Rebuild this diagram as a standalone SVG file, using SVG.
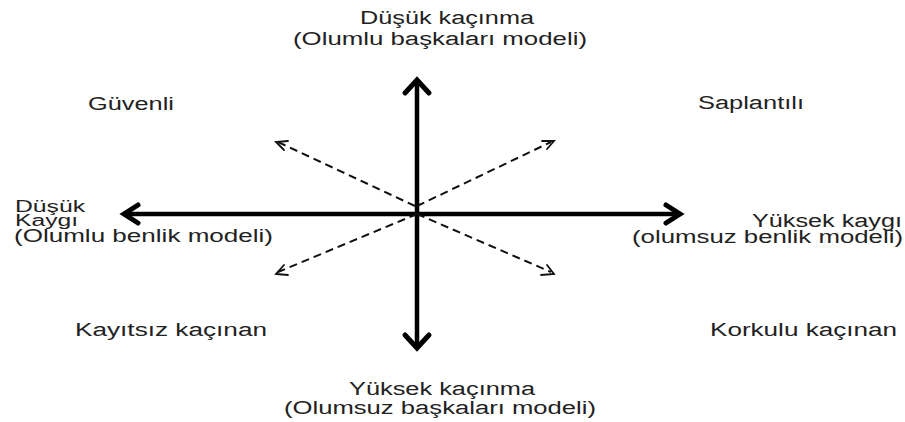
<svg xmlns="http://www.w3.org/2000/svg" width="905" height="422" viewBox="0 0 905 422">
<style>
  text { font-family: "Liberation Sans", Arial, sans-serif; font-size: 18px; fill: #222; }
  .small { font-size: 16px; }
  .axis { stroke: #000; stroke-width: 4.5; fill: none; stroke-linecap: butt; }
  .head { stroke: #000; stroke-width: 5; fill: none; stroke-linejoin: miter; stroke-linecap: round; }
  .dash { stroke: #111; stroke-width: 2; fill: none; stroke-dasharray: 8 5; }
  .dhead { stroke: #111; stroke-width: 1.8; fill: none; stroke-linecap: round; }
</style>
<rect width="905" height="422" fill="#fff"/>
<g id="connectors">
  <line class="axis" x1="417" y1="82" x2="417" y2="346"/>
  <polyline class="head" points="405,93 417,80 429,93"/>
  <polyline class="head" points="405,335 417,348 429,335"/>
  <line class="axis" x1="126" y1="214" x2="678" y2="214"/>
  <polyline class="head" points="138,205 124,214 138,223"/>
  <polyline class="head" points="666,205 680,214 666,223"/>
  <line class="dash" x1="415" y1="206" x2="278" y2="142"/>
  <polyline class="dhead" points="288,141 276,142 284,150"/>
  <line class="dash" x1="417" y1="206" x2="551" y2="142"/>
  <polyline class="dhead" points="542,141 554,141 547,149"/>
  <line class="dash" x1="417" y1="214" x2="278" y2="272"/>
  <polyline class="dhead" points="284,265 276,274 288,275"/>
  <line class="dash" x1="417" y1="214" x2="551" y2="272"/>
  <polyline class="dhead" points="547,265 554,274 541,275"/>
</g>
<g id="top-label">
  <text x="360" y="24" textLength="174" lengthAdjust="spacingAndGlyphs">Düşük kaçınma</text>
  <text x="293" y="45" textLength="294" lengthAdjust="spacingAndGlyphs">(Olumlu başkaları modeli)</text>
</g>
<g id="guvenli"><text x="88" y="110" textLength="86" lengthAdjust="spacingAndGlyphs">Güvenli</text></g>
<g id="saplantili"><text x="698" y="109" textLength="106" lengthAdjust="spacingAndGlyphs">Saplantılı</text></g>
<g id="left-label">
  <text class="small" x="15" y="212" textLength="70" lengthAdjust="spacingAndGlyphs">Düşük</text>
  <text class="small" x="15" y="226" textLength="63" lengthAdjust="spacingAndGlyphs">Kaygı</text>
  <text x="14" y="242" textLength="259" lengthAdjust="spacingAndGlyphs">(Olumlu benlik modeli)</text>
</g>
<g id="right-label">
  <text x="752" y="227" textLength="150" lengthAdjust="spacingAndGlyphs">Yüksek kaygı</text>
  <text x="632" y="243" textLength="271" lengthAdjust="spacingAndGlyphs">(olumsuz benlik modeli)</text>
</g>
<g id="kayitsiz"><text x="75" y="336" textLength="192" lengthAdjust="spacingAndGlyphs">Kayıtsız kaçınan</text></g>
<g id="korkulu"><text x="710" y="336" textLength="187" lengthAdjust="spacingAndGlyphs">Korkulu kaçınan</text></g>
<g id="bottom-label">
  <text x="349" y="395" textLength="186" lengthAdjust="spacingAndGlyphs">Yüksek kaçınma</text>
  <text x="284" y="414" textLength="312" lengthAdjust="spacingAndGlyphs">(Olumsuz başkaları modeli)</text>
</g>
</svg>
